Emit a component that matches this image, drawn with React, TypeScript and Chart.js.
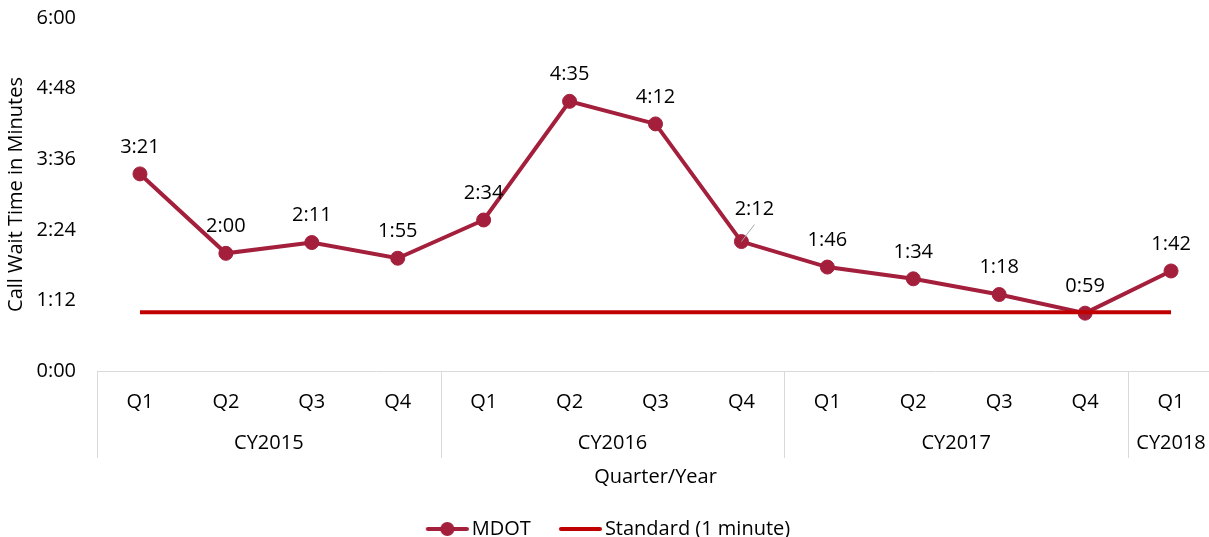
import React, { useEffect, useRef } from "react";
import { Chart, registerables } from "chart.js";

Chart.register(...registerables);

// ---- Data ----
const quarterLabels = ["Q1", "Q2", "Q3", "Q4", "Q1", "Q2", "Q3", "Q4", "Q1", "Q2", "Q3", "Q4", "Q1"];
const yearLabels = ["CY2015", "CY2016", "CY2017", "CY2018"];
const quartersPerYear = [4, 4, 4, 1];
// call wait time in seconds
const mdotSeconds = [201, 120, 131, 115, 154, 275, 252, 132, 106, 94, 78, 59, 102];
const standardSeconds = [60, 60, 60, 60, 60, 60, 60, 60, 60, 60, 60, 60, 60];
const yMin = 0;
const yMax = 360;
const yStep = 72;

const FONT = "'Open Sans'";
const FS = 20;
const MDOT_COLOR = "#A31F3C";
const STD_COLOR = "#C00000";
const TEXT_COLOR = "#000000";
const CANVAS_W = 1216;
const CANVAS_H = 549;

const fmt = (s: number) => {
  const m = Math.floor(s / 60);
  const sec = Math.round(s - m * 60);
  return `${m}:${String(sec).padStart(2, "0")}`;
};

// label nudges (style only)
const labelNudge: Record<number, { dx: number; dy: number; leader: boolean }> = {
  7: { dx: 13, dy: -32, leader: true },
};

function makeLegendImage(withPoint: boolean, color: string, padLeft: number) {
  const c = document.createElement("canvas");
  const w = 43 + padLeft;
  c.width = w;
  c.height = 16;
  const ctx = c.getContext("2d")!;
  ctx.strokeStyle = color;
  ctx.lineWidth = 4;
  ctx.lineCap = "round";
  ctx.beginPath();
  ctx.moveTo(padLeft + 2, 8);
  ctx.lineTo(w - 2, 8);
  ctx.stroke();
  if (withPoint) {
    ctx.fillStyle = color;
    ctx.beginPath();
    ctx.arc(padLeft + 21.5, 8, 7, 0, Math.PI * 2);
    ctx.fill();
  }
  return c;
}

const legendShiftPlugin = {
  id: "legendShift",
  afterLayout(chart: any) {
    if (chart.legend) {
      chart.legend.left -= 8;
      chart.legend.right -= 8;
    }
  },
};

const yearGroupPlugin = {
  id: "yearGroups",
  afterDraw(chart: any) {
    const x = chart.scales.x;
    const area = chart.chartArea;
    const ctx = chart.ctx;
    const half = (x.getPixelForValue(1) - x.getPixelForValue(0)) / 2;
    ctx.save();
    let idx = 0;
    quartersPerYear.forEach((n, gi) => {
      const left = x.getPixelForValue(idx) - half;
      const right = x.getPixelForValue(idx + n - 1) + half;
      ctx.strokeStyle = "#D9D9D9";
      ctx.lineWidth = 1;
      ctx.beginPath();
      ctx.moveTo(Math.round(left) + 0.5, area.bottom);
      ctx.lineTo(Math.round(left) + 0.5, area.bottom + 87);
      ctx.stroke();
      ctx.fillStyle = TEXT_COLOR;
      ctx.font = `${FS}px ${FONT}`;
      ctx.textAlign = "center";
      ctx.textBaseline = "middle";
      ctx.fillText(yearLabels[gi], (left + right) / 2, area.bottom + 72);
      idx += n;
    });
    ctx.restore();
  },
};

const dataLabelPlugin = {
  id: "mdotLabels",
  afterDatasetsDraw(chart: any) {
    const meta = chart.getDatasetMeta(0);
    const ctx = chart.ctx;
    ctx.save();
    ctx.font = `${FS}px ${FONT}`;
    ctx.fillStyle = TEXT_COLOR;
    ctx.textAlign = "center";
    ctx.textBaseline = "middle";
    meta.data.forEach((pt: any, i: number) => {
      const nudge = labelNudge[i] || { dx: 0, dy: -27, leader: false };
      const lx = pt.x + nudge.dx;
      const ly = pt.y + nudge.dy;
      if (nudge.leader) {
        ctx.strokeStyle = "#A6A6A6";
        ctx.lineWidth = 1;
        ctx.beginPath();
        ctx.moveTo(pt.x, pt.y);
        ctx.lineTo(lx, ly + 15);
        ctx.stroke();
      }
      ctx.fillText(fmt(mdotSeconds[i]), lx, ly);
    });
    ctx.restore();
  },
};

export default function App() {
  const ref = useRef<HTMLCanvasElement | null>(null);

  useEffect(() => {
    if (!ref.current) return;
    const PAD = 25;
    const mdotImg = makeLegendImage(true, MDOT_COLOR, PAD);
    const stdImg = makeLegendImage(false, STD_COLOR, PAD);

    const chart = new Chart(ref.current, {
      type: "line",
      data: {
        labels: quarterLabels,
        datasets: [
          {
            label: "MDOT",
            data: mdotSeconds,
            borderColor: MDOT_COLOR,
            backgroundColor: MDOT_COLOR,
            borderWidth: 4,
            pointRadius: 7,
            pointBorderWidth: 1,
            pointBackgroundColor: MDOT_COLOR,
            pointBorderColor: MDOT_COLOR,
            tension: 0,
            order: 1,
          },
          {
            label: "Standard (1 minute)",
            data: standardSeconds,
            borderColor: STD_COLOR,
            backgroundColor: STD_COLOR,
            borderWidth: 4,
            pointRadius: 0,
            tension: 0,
            order: 0,
          },
        ],
      },
      options: {
        animation: false,
        responsive: false,
        devicePixelRatio: 1,
        layout: { autoPadding: false, padding: { left: 0, right: 2, top: 18, bottom: 0 } },
        plugins: {
          tooltip: { enabled: false },
          legend: {
            position: "bottom",
            labels: {
              usePointStyle: true,
              pointStyleWidth: 29 + PAD,
              padding: 10,
              color: TEXT_COLOR,
              font: { family: FONT, size: FS },
              sort: (a: any, b: any) => a.datasetIndex - b.datasetIndex,
              generateLabels: (ch: any) => {
                const items = Chart.defaults.plugins.legend.labels.generateLabels(ch);
                return items.map((it: any) => ({
                  ...it,
                  pointStyle: it.datasetIndex === 0 ? mdotImg : stdImg,
                  fontColor: TEXT_COLOR,
                }));
              },
            },
          },
        },
        scales: {
          x: {
            type: "category",
            offset: true,
            grid: { display: false, drawTicks: false },
            border: { display: true, color: "#D9D9D9", width: 1 },
            ticks: {
              color: TEXT_COLOR,
              font: { family: FONT, size: FS },
              padding: 19,
              maxRotation: 0,
              autoSkip: false,
            },
            title: {
              display: true,
              text: "Quarter/Year",
              color: TEXT_COLOR,
              font: { family: FONT, size: FS },
              padding: { top: 0, bottom: 20 },
            },
            afterFit: (scale: any) => {
              scale.height = 138;
              scale.paddingLeft = 0;
              scale.paddingRight = 0;
            },
          },
          y: {
            min: yMin,
            max: yMax,
            grid: { display: false, drawTicks: false },
            border: { display: false },
            ticks: {
              stepSize: yStep,
              color: TEXT_COLOR,
              font: { family: FONT, size: FS },
              padding: 21,
              callback: (v: any) => fmt(Number(v)),
            },
            title: {
              display: true,
              text: "Call Wait Time in Minutes",
              color: TEXT_COLOR,
              font: { family: FONT, size: FS },
              padding: { top: 4, bottom: 4 },
            },
            afterFit: (scale: any) => {
              scale.width = 97;
              scale.paddingTop = 0;
              scale.paddingBottom = 0;
            },
          },
        },
      },
      plugins: [yearGroupPlugin, dataLabelPlugin, legendShiftPlugin],
    });
    return () => chart.destroy();
  }, []);

  return (
    <div
      style={{
        position: "absolute",
        left: 0,
        top: 0,
        width: 1209,
        height: 537,
        overflow: "hidden",
        background: "#fff",
      }}
    >
      <div style={{ width: CANVAS_W, height: CANVAS_H }}>
        <canvas
          ref={ref}
          width={CANVAS_W}
          height={CANVAS_H}
          style={{ display: "block", width: CANVAS_W, height: CANVAS_H }}
        />
      </div>
    </div>
  );
}
